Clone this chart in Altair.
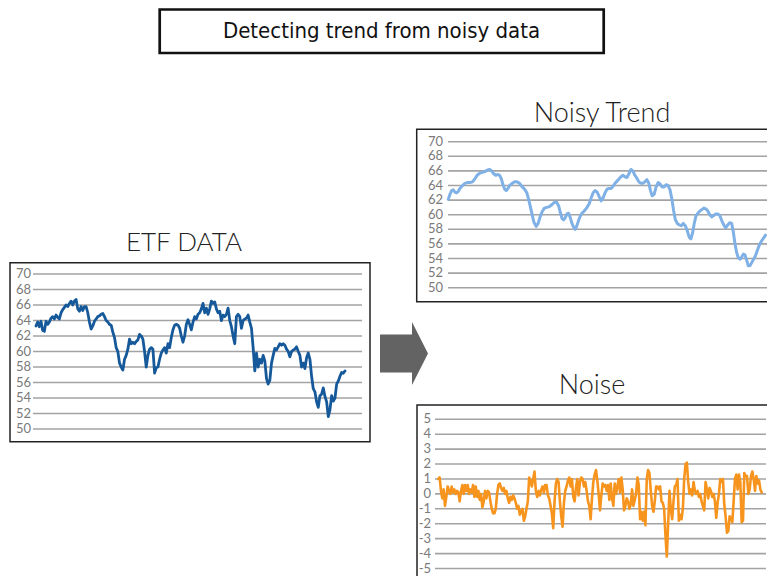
import altair as alt
import pandas as pd

# ---------------- data ----------------
etf_values = [63.3, 63.8, 63.2, 63.9, 62.7, 62.6, 63.9, 63.5, 63.8, 64.3, 64.5, 64.2, 64.7, 64.4, 64.2,
              65.0, 65.4, 65.7, 66.0, 65.8, 66.2, 66.5, 66.0, 66.5, 66.7, 65.5, 65.2, 65.8, 65.3, 65.8,
              65.8, 65.0, 63.8, 62.9, 63.3, 63.9, 64.2, 64.5, 64.6, 64.8, 64.9, 64.5, 64.0, 63.8, 63.5,
              63.4, 62.5, 61.8, 60.5, 60.0, 58.5, 58.0, 57.6, 59.0, 59.5, 60.3, 61.6, 61.0, 61.2, 61.0,
              61.3, 61.5, 62.2, 62.0, 61.6, 60.0, 58.0, 59.5, 60.3, 60.5, 60.3, 57.2, 57.9, 58.0, 59.0,
              59.8, 60.2, 60.5, 59.8, 61.0, 60.5, 61.8, 62.8, 63.4, 63.5, 63.4, 63.0, 62.0, 61.2, 62.0,
              63.5, 64.1, 63.5, 62.8, 63.8, 64.5, 64.2, 64.8, 65.0, 65.5, 66.2, 65.0, 65.6, 64.8, 65.5,
              66.5, 66.2, 66.4, 65.5, 65.0, 65.2, 64.0, 64.7, 64.5, 64.8, 65.6, 64.0, 63.2, 62.0, 61.0,
              64.5, 64.8, 64.5, 63.0, 64.0, 64.2, 64.3, 64.7, 63.8, 63.0, 60.5, 57.5, 59.8, 58.0, 59.0,
              58.5, 59.5, 58.8, 56.5, 55.8, 56.3, 58.5, 59.5, 60.4, 60.2, 60.6, 61.0, 60.8, 61.0, 60.8,
              60.3, 60.0, 59.3, 60.0, 60.2, 60.3, 60.6, 60.0, 59.5, 58.0, 58.5, 57.8, 59.2, 59.8, 59.0,
              56.8, 55.2, 54.8, 53.5, 52.8, 54.3, 54.5, 55.3, 54.2, 53.5, 51.6, 52.5, 54.3, 53.6, 54.0,
              55.8, 56.2, 56.8, 57.3, 57.2, 57.5]

trend_time = [115, 120, 125, 130, 135, 140, 145, 150, 158, 165, 172, 180, 188, 195, 202, 210, 218, 225,
              232, 240, 246, 252, 258, 265, 270, 275, 280, 285, 290, 295, 300, 308, 315, 322, 330, 338,
              345, 352, 358, 363, 368, 373, 380, 386, 392, 398, 405, 412, 420, 428, 435, 442, 448, 453,
              458, 463, 468, 473, 478, 483, 488, 493, 498, 503, 508, 513, 518, 525, 532, 540, 546, 552,
              558, 564, 570, 576, 582, 588, 594, 600, 606, 612, 618, 624, 630, 636, 642, 648, 654, 660,
              666, 672, 678, 684, 690, 696, 702, 708, 714, 720, 725, 730, 736, 742, 748, 754, 760, 766,
              772, 778, 784, 790, 795, 800, 806, 812, 818, 824, 830, 836, 842, 847, 852, 857, 862, 868,
              874, 880, 886, 892, 898, 904, 910, 916, 922, 928, 934, 940, 946, 952, 958, 964, 970, 975,
              980, 985, 990, 995, 1000, 1005, 1010, 1015, 1020, 1025, 1030, 1036, 1042, 1048, 1054,
              1060, 1066, 1072]
trend_values = [62.1, 62.8, 63.3, 63.4, 63.1, 63.0, 63.2, 63.6, 64.0, 64.3, 64.4, 64.4, 64.5, 64.9, 65.4,
                65.7, 65.8, 65.9, 66.1, 66.2, 66.0, 65.6, 65.4, 65.5, 65.4, 64.9, 64.1, 63.5, 63.3, 63.6,
                64.0, 64.3, 64.5, 64.5, 64.3, 63.8, 63.5, 63.0, 62.0, 61.0, 60.0, 59.0, 58.4, 58.8, 59.7,
                60.4, 60.9, 61.0, 61.1, 61.4, 61.7, 61.7, 61.2, 60.3, 59.5, 59.3, 59.6, 60.1, 60.2, 59.6,
                58.8, 58.3, 58.0, 58.5, 59.2, 59.8, 60.2, 60.5, 60.9, 61.5, 62.3, 63.0, 63.3, 63.1, 62.5,
                61.9, 62.3, 63.0, 63.5, 63.6, 63.6, 63.9, 64.3, 64.6, 64.9, 65.2, 65.4, 65.2, 65.1, 65.6,
                66.2, 66.0, 65.4, 65.0, 64.5, 64.3, 64.3, 64.5, 64.8, 64.3, 63.3, 62.6, 62.8, 63.8, 64.4,
                64.2, 63.8, 63.8, 64.1, 64.0, 63.4, 62.0, 60.5, 59.3, 58.8, 58.6, 58.5, 58.8, 58.5, 57.8,
                56.9, 56.7, 57.5, 58.8, 59.8, 60.2, 60.5, 60.7, 60.9, 60.8, 60.5, 60.0, 59.7, 59.9, 60.1,
                60.1, 59.9, 59.2, 58.6, 58.2, 58.6, 58.9, 58.8, 57.6, 56.0, 54.8, 54.1, 53.9, 54.2, 54.6,
                54.5, 53.8, 53.0, 53.0, 53.4, 53.9, 54.4, 55.2, 55.9, 56.4, 56.8, 57.2]

noise_values = [1.0, 1.1, 0.2, -0.3, 0.3, -0.8, -0.2, 0.5, 0.2, 0.0, 0.5, 0.1, 0.3, 0.0, 0.2, 0.1, -0.5,
                0.2, 0.6, 0.0, 0.6, 0.2, 0.6, 0.0, 0.3, 0.1, 0.6, -0.2, 0.5, -0.2, 0.2, -0.4, 0.0, -0.9,
                -0.5, 0.2, -0.3, 0.2, 0.1, -0.5, -1.0, -1.3, -1.3, -1.0, 0.0, 0.6, 0.7, 0.4, 0.2, 0.4,
                0.0, 0.2, -0.3, -0.6, -0.2, -0.4, -0.1, -0.3, -0.6, -1.0, -0.8, -1.4, -1.2, -1.0, -1.8,
                -1.5, -1.0, -0.5, 1.1, 0.9, 0.5, 1.0, 1.5, 0.2, -0.2, 0.2, -0.1, 0.3, 0.5, 0.1, 0.6, 0.6,
                -0.1, -0.3, -0.8, -1.3, -2.3, -0.5, 0.7, 1.0, 0.8, -0.5, -1.5, -2.2, -0.6, 0.2, 0.5, 0.9,
                1.1, 0.5, 1.0, -0.2, -0.5, 0.4, 1.0, -0.1, 0.8, 1.1, 1.0, 0.5, 0.8, 0.2, -0.5, -0.8, -1.7,
                -0.3, 0.8, 1.3, 1.6, 0.9, 0.0, -1.1, -0.1, 0.7, 0.5, 0.6, 0.2, 0.6, -0.4, 0.7, -0.3, -0.8,
                0.7, 0.0, 0.5, 1.0, 0.1, 1.1, 0.3, -1.1, -0.8, -0.3, -0.5, -1.0, -0.7, 0.3, -0.8, -0.4,
                0.0, 1.1, 0.6, -1.7, -1.2, -1.8, -1.2, -2.1, 1.0, 1.6, 1.4, 0.2, -0.8, -1.2, -0.5, 0.5,
                0.5, 0.3, 0.5, -0.5, -0.6, -1.0, -2.8, -4.2, -2.0, 0.2, -1.0, -1.7, -0.5, 0.5, 0.6, 1.0,
                -1.8, -1.4, -1.7, -1.0, 1.0, 2.0, 2.1, 0.8, 0.0, 0.3, -0.1, 0.8, 0.2, 0.0, 0.2, -0.2, 0.0,
                -0.5, -0.8, -1.1, 0.8, 0.3, -0.3, 0.4, 0.2, -0.2, 0.0, -0.5, -1.6, -0.6, 0.0, 1.0, 0.8,
                1.0, -0.7, -1.5, -2.6, -2.5, -1.5, -1.6, -1.9, -0.5, 1.0, 1.3, 0.3, 1.3, 0.8, -1.9, -1.8,
                1.4, 1.2, 1.2, 0.0, 0.3, 1.2, 1.5, 1.0, 0.2, 1.2, 0.7, 0.9, 0.3, 0.1]

price_ticks = [50, 52, 54, 56, 58, 60, 62, 64, 66, 68, 70]
noise_ticks = [-5, -4, -3, -2, -1, 0, 1, 2, 3, 4, 5]

main_title = "Detecting trend from noisy data"
etf_title = "ETF DATA"
trend_title = "Noisy Trend"
noise_title = "Noise"

assert len(trend_time) == len(trend_values), (len(trend_time), len(trend_values))

W, H = 759, 568
LABEL_FONT = "Lato"
TITLE_FONT = "Lato"
GRID_COLOR = "#a3a3a3"
LABEL_COLOR = "#7a7a7a"

one = alt.InlineData(values=[{}])


def panel(df, xfield, xdomain, xrange, ydomain, yrange, ticks, color, width,
          grid_x, label_x, frame, title, title_xy, title_size):
    xs = alt.Scale(domain=xdomain, range=xrange, nice=False, zero=False)
    ys = alt.Scale(domain=ydomain, range=yrange, nice=False, zero=False)
    tick_df = pd.DataFrame({"v": ticks, "label": [str(t) for t in ticks]})
    grid = alt.Chart(tick_df).mark_rule(color=GRID_COLOR, strokeWidth=1.6).encode(
        y=alt.Y("v:Q", scale=ys, axis=None),
        x=alt.value(grid_x[0]), x2=alt.value(grid_x[1]))
    labels = alt.Chart(tick_df).mark_text(
        align="right", baseline="middle", font=LABEL_FONT, fontSize=13,
        color=LABEL_COLOR).encode(
        y=alt.Y("v:Q", scale=ys, axis=None), x=alt.value(label_x), text="label:N")
    line = alt.Chart(df).mark_line(color=color, strokeWidth=width,
                                   strokeJoin="round", strokeCap="round").encode(
        x=alt.X(f"{xfield}:Q", scale=xs, axis=None),
        y=alt.Y("v:Q", scale=ys, axis=None))
    box = alt.Chart(one).mark_rect(fillOpacity=0, stroke="#222222", strokeWidth=1.5).encode(
        x=alt.value(frame[0]), x2=alt.value(frame[1]),
        y=alt.value(frame[2]), y2=alt.value(frame[3]))
    ttl = alt.Chart(one).mark_text(
        align="center", baseline="alphabetic", font=TITLE_FONT, fontSize=title_size,
        fontWeight=300, color="#222222").encode(
        x=alt.value(title_xy[0]), y=alt.value(title_xy[1]), text=alt.value(title))
    return alt.layer(grid, labels, line, box, ttl)


etf_df = pd.DataFrame({"i": list(range(len(etf_values))), "v": etf_values})
trend_df = pd.DataFrame({"t": trend_time, "v": trend_values})
noise_df = pd.DataFrame({"i": list(range(len(noise_values))), "v": noise_values})

etf_panel = panel(etf_df, "i", [0, len(etf_values) - 1], [28, 337], [50, 70], [421, 266],
                  price_ticks, "#15599a", 2.8, (25, 354), 23, (2, 362, 254.7, 433.7),
                  etf_title, (176, 243), 26)
trend_panel = panel(trend_df, "t", [trend_time[0], trend_time[-1]], [440.3, 757.5], [50, 70],
                    [279.7, 133.7], price_ticks, "#7fb1e6", 3.0, (440, 765), 435,
                    (408.7, 766, 121.3, 293.7), trend_title, (594, 113.7), 27)
noise_panel = panel(noise_df, "i", [0, len(noise_values) - 1], [430.3, 753.7], [-5, 5],
                    [560.5, 411.3], noise_ticks, "#f7941d", 2.6, (427, 758), 423,
                    (409, 766, 397, 600), noise_title, (584, 386), 27)

title_box = alt.Chart(one).mark_rect(fillOpacity=0, stroke="#111111", strokeWidth=2.7).encode(
    x=alt.value(151.7), x2=alt.value(595.7), y=alt.value(1.5), y2=alt.value(45))
title_text = alt.Chart(one).mark_text(
    align="center", baseline="alphabetic",
    font="DejaVu Sans Condensed, Liberation Sans Narrow, sans-serif",
    fontSize=22, color="#111111").encode(
    x=alt.value(373.5), y=alt.value(29.5), text=alt.value(main_title))

arrow_path = "M-0.762,-0.6L0.254,-0.6L0.254,-1L0.762,0L0.254,1L0.254,0.6L-0.762,0.6Z"
arrow = alt.Chart(one).mark_point(shape=arrow_path, filled=True, size=3969,
                                  color="#636363", opacity=1, strokeWidth=0).encode(
    x=alt.value(396), y=alt.value(345.5))

chart = alt.layer(etf_panel, trend_panel, noise_panel, title_box, title_text, arrow).resolve_scale(
    x="independent", y="independent"
).properties(
    width=W, height=H, padding=0,
    autosize=alt.AutoSizeParams(type="none"),
).configure_view(stroke=None)

chart.save("out.html", embed_options={"renderer": "svg", "actions": False})
